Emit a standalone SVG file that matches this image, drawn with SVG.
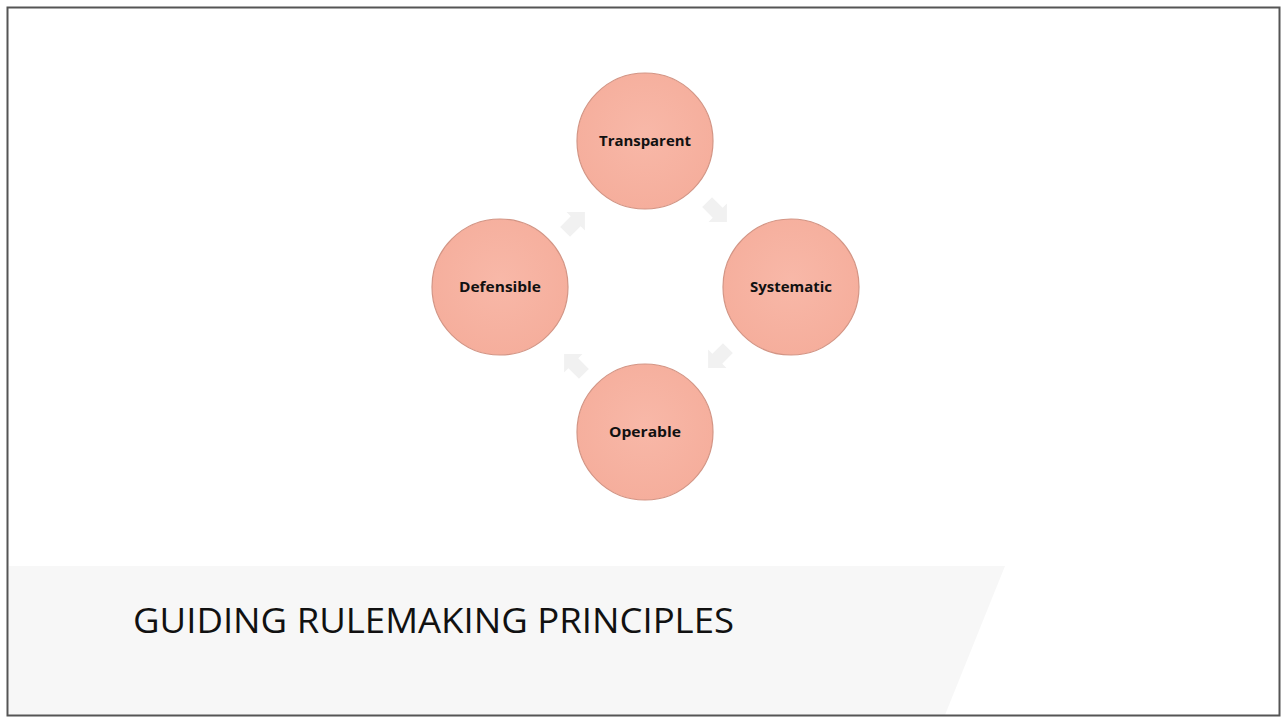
<svg xmlns="http://www.w3.org/2000/svg" width="1283" height="719" viewBox="0 0 1283 719">
<defs>
<radialGradient id="cg" cx="50%" cy="45%" r="60%">
<stop offset="0" stop-color="#f8b8a8"/>
<stop offset="1" stop-color="#f5ad9b"/>
</radialGradient>
<path id="arr" d="M-14,-7 L1,-7 L1,-13 L14,0 L1,13 L1,7 L-14,7 Z"/>
</defs>
<style>
.node circle{fill:url(#cg);stroke:#d39585;stroke-width:1.2}
.node text{font-family:"Open Sans","Noto Sans","Liberation Sans",sans-serif;font-weight:bold;font-size:15px;fill:#111;text-anchor:middle}
.conn use{fill:#f1f1f1}
.title{font-family:"Open Sans","Noto Sans","Liberation Sans",sans-serif;font-size:35px;fill:#111}
</style>
<rect x="0" y="0" width="1283" height="719" fill="#ffffff"/>
<polygon points="9,566 1005,566 945,715 9,715" fill="#f7f7f7"/>
<rect x="7.5" y="7.5" width="1272" height="708" fill="none" stroke="#555" stroke-width="2"/>
<g class="conn">
<use href="#arr" transform="translate(575,222) rotate(-45)"/>
<use href="#arr" transform="translate(717,212) rotate(45)"/>
<use href="#arr" transform="translate(718,358) rotate(135)"/>
<use href="#arr" transform="translate(574,364) rotate(-135)"/>
</g>
<g id="transparent" class="node"><circle cx="645" cy="141" r="68"/><text x="645" y="146" textLength="92" lengthAdjust="spacingAndGlyphs">Transparent</text></g>
<g id="systematic" class="node"><circle cx="791" cy="287" r="68"/><text x="791" y="292" textLength="82" lengthAdjust="spacingAndGlyphs">Systematic</text></g>
<g id="defensible" class="node"><circle cx="500" cy="287" r="68"/><text x="500" y="292" textLength="82" lengthAdjust="spacingAndGlyphs">Defensible</text></g>
<g id="operable" class="node"><circle cx="645" cy="432" r="68"/><text x="645" y="437" textLength="72" lengthAdjust="spacingAndGlyphs">Operable</text></g>
<text class="title" x="133" y="633" textLength="601" lengthAdjust="spacingAndGlyphs">GUIDING RULEMAKING PRINCIPLES</text>
</svg>
